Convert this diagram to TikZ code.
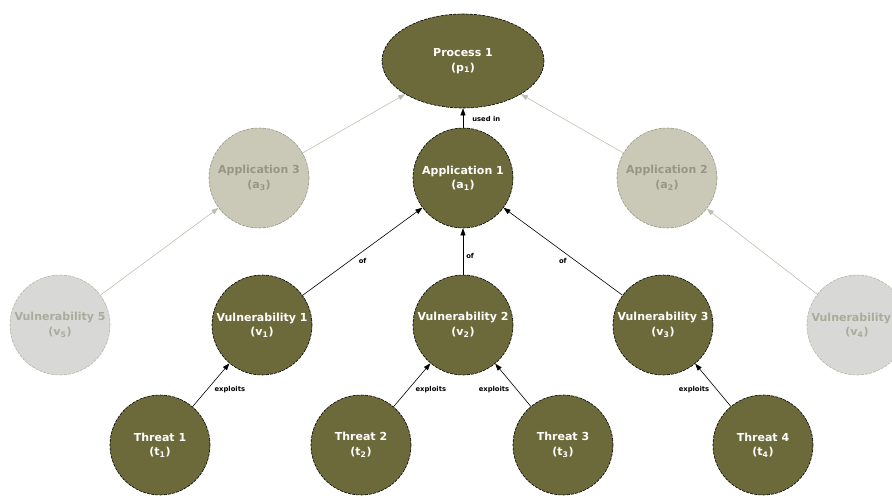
\documentclass[tikz,border=0pt]{standalone}
\usepackage{fontspec}
\setmainfont{DejaVu Sans}
\usetikzlibrary{arrows.meta,shapes.geometric}
\definecolor{olive}{RGB}{108,106,58}
\definecolor{paleapp}{RGB}{202,201,184}
\definecolor{palevul}{RGB}{216,216,214}
\definecolor{paletext}{RGB}{150,150,130}
\definecolor{paleedge}{RGB}{190,190,175}
\tikzset{
  x=1pt, y=-1pt,
  active/.style={circle, minimum size=100pt, inner sep=0pt, fill=olive, draw=black,
    dash pattern=on 3pt off 1.2pt, line width=0.6pt, text=white,
    font=\bfseries\fontsize{11}{14.5}\selectfont, align=center},
  faded/.style={active, fill=paleapp, draw=paletext, text=paletext},
  fadedv/.style={active, fill=palevul, draw=paletext!70, text=paletext!80},
  rel/.style={-{Triangle[length=7pt,width=5pt]}, line width=0.6pt, black},
  paleRel/.style={rel, draw=paleedge, -{Triangle[length=7pt,width=5pt,fill=paleedge]}},
  lbl/.style={font=\bfseries\fontsize{6.8}{8}\selectfont, text=black, inner sep=1pt},
}
\begin{document}
\begin{tikzpicture}
\useasboundingbox (0,0) rectangle (892,498);
\clip (0,0) rectangle (892,498);

% top process
\node[active, ellipse, minimum width=162pt, minimum height=94pt] (p1) at (463,61)
  {Process 1\\(p\textsubscript{1})};

% applications
\node[active] (a1) at (463,178) {Application 1\\(a\textsubscript{1})};
\node[faded] (a3) at (259,178) {Application 3\\(a\textsubscript{3})};
\node[faded] (a2) at (667,178) {Application 2\\(a\textsubscript{2})};

% vulnerabilities
\node[fadedv] (v5) at (60,325) {Vulnerability 5\\(v\textsubscript{5})};
\node[active] (v1) at (262,325) {Vulnerability 1\\(v\textsubscript{1})};
\node[active] (v2) at (463,325) {Vulnerability 2\\(v\textsubscript{2})};
\node[active] (v3) at (663,325) {Vulnerability 3\\(v\textsubscript{3})};
\node[fadedv] (v4) at (857,325) {Vulnerability 4\\(v\textsubscript{4})};

% threats
\node[active] (t1) at (160,445) {Threat 1\\(t\textsubscript{1})};
\node[active] (t2) at (361,445) {Threat 2\\(t\textsubscript{2})};
\node[active] (t3) at (563,445) {Threat 3\\(t\textsubscript{3})};
\node[active] (t4) at (763,445) {Threat 4\\(t\textsubscript{4})};

% relations
\draw[rel] (a1) -- node[lbl, right=8pt, pos=0.45] {used in} (p1);
\draw[paleRel] (a3) -- (p1);
\draw[paleRel] (a2) -- (p1);

\draw[rel] (v1) -- node[lbl, pos=0.45, below right=1pt] {of} (a1);
\draw[rel] (v2) -- node[lbl, pos=0.4, right=2pt] {of} (a1);
\draw[rel] (v3) -- node[lbl, pos=0.45, below left=1pt] {of} (a1);
\draw[paleRel] (v5) -- (a3);
\draw[paleRel] (v4) -- (a2);

\draw[rel] (t1) -- node[lbl, pos=0.4, right=6pt] {exploits} (v1);
\draw[rel] (t2) -- node[lbl, pos=0.4, right=6pt] {exploits} (v2);
\draw[rel] (t3) -- node[lbl, pos=0.4, left=6pt] {exploits} (v2);
\draw[rel] (t4) -- node[lbl, pos=0.4, left=6pt] {exploits} (v3);
\end{tikzpicture}
\end{document}
